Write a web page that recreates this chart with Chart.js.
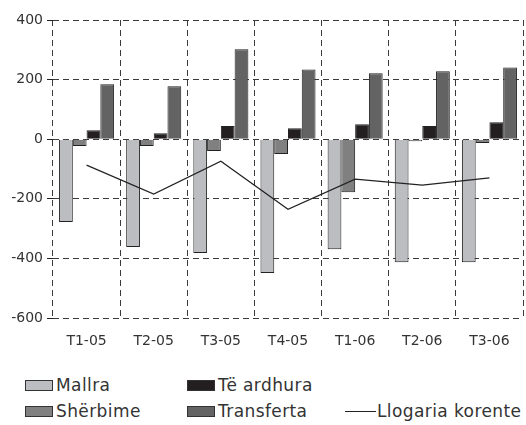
<!DOCTYPE html>
<html>
<head>
<meta charset="utf-8">
<script src="https://cdn.jsdelivr.net/npm/chart.js@4"></script>
<style>
    body { margin: 0; background: #fff; font-family: "DejaVu Sans", sans-serif; }
    #wrap { position: relative; width: 526px; height: 362px; }
    #legend { position: absolute; left: 25px; top: 372px; font-size: 17px; letter-spacing: 0.4px; color: #333; }
    .row { display: flex; height: 26px; align-items: center; }
    .item { display: flex; align-items: center; }
    .box { width: 28px; height: 11px; border: 1px solid #333; margin-right: 3px; box-sizing: border-box; }
    .ln { width: 31px; height: 0; border-top: 1px solid #222; margin-right: 1px; }
</style>
</head>
<body>
<div id="wrap"><canvas id="myChart"></canvas></div>
<div id="legend">
    <div class="row">
        <div class="item" style="width:162px"><div class="box" style="background:#bcbdc0"></div>Mallra</div>
        <div class="item"><div class="box" style="background:#231f20"></div>Të ardhura</div>
    </div>
    <div class="row">
        <div class="item" style="width:162px"><div class="box" style="background:#808080"></div>Shërbime</div>
        <div class="item" style="width:158px"><div class="box" style="background:#636363"></div>Transferta</div>
        <div class="item"><div class="ln"></div>Llogaria korente</div>
    </div>
</div>
<script>
const labels = ['T1-05', 'T2-05', 'T3-05', 'T4-05', 'T1-06', 'T2-06', 'T3-06'];
const mallra = [-278, -362, -382, -449, -369, -413, -413];
const sherbime = [-23, -23, -40, -50, -178, -7, -13];
const teArdhura = [30, 20, 44, 37, 50, 44, 57];
const transferta = [184, 178, 302, 234, 221, 228, 241];
const llogariaKorente = [-87, -184, -74, -235, -134, -154, -130];
const yTicks = [-600, -400, -200, 0, 200, 400];

const gridColor = '#3a3a3a';
const dash = [6, 4];

function barSet(label, values, color) {
    return {
        type: 'bar',
        label: label,
        data: values,
        backgroundColor: color,
        borderColor: '#222',
        borderWidth: 1,
        barPercentage: 1,
        categoryPercentage: 0.82,
        order: 2
    };
}

const config = {
    data: {
        labels: labels,
        datasets: [
            {
                type: 'line',
                label: 'Llogaria korente',
                data: llogariaKorente,
                borderColor: '#222',
                borderWidth: 1.2,
                pointRadius: 0,
                tension: 0,
                fill: false,
                order: 1
            },
            barSet('Mallra', mallra, '#bcbdc0'),
            barSet('Shërbime', sherbime, '#808080'),
            barSet('Të ardhura', teArdhura, '#231f20'),
            barSet('Transferta', transferta, '#636363')
        ]
    },
    options: {
        responsive: false,
        animation: false,
        layout: { padding: { top: 20, right: 3, left: 0, bottom: 0 } },
        plugins: {
            legend: { display: false },
            tooltip: { enabled: false }
        },
        scales: {
            x: {
                offset: true,
                grid: {
                    offset: true,
                    color: gridColor,
                    lineWidth: 1,
                    drawTicks: false
                },
                border: { display: false, dash: dash },
                ticks: {
                    color: '#333',
                    padding: 15,
                    font: { family: 'DejaVu Sans', size: 14 }
                },
                afterFit: function(scale) { scale.height = 44; }
            },
            y: {
                min: -600,
                max: 400,
                afterBuildTicks: function(scale) {
                    scale.ticks = yTicks.map(v => ({ value: v }));
                },
                grid: {
                    color: gridColor,
                    lineWidth: 1,
                    tickLength: 6,
                    tickBorderDash: [],
                    tickColor: '#222'
                },
                border: { display: false, dash: dash },
                ticks: {
                    color: '#333',
                    padding: 4,
                    font: { family: 'DejaVu Sans', size: 14 }
                },
                afterFit: function(scale) { scale.width = 53; }
            }
        }
    }
};

window.onload = function() {
    const canvas = document.getElementById('myChart');
    canvas.width = 526;
    canvas.height = 362;
    new Chart(canvas.getContext('2d'), config);
};
</script>
</body>
</html>
